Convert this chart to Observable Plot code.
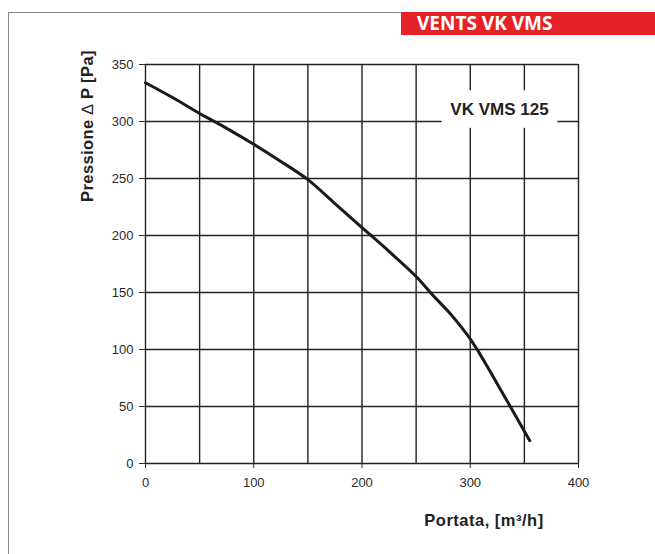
<!DOCTYPE html>
<html><head><meta charset="utf-8">
<script src="https://cdn.jsdelivr.net/npm/d3@7"></script>
<script src="https://cdn.jsdelivr.net/npm/@observablehq/plot@0.6"></script>
<style>
body{margin:0;background:#fff;}
#wrap{position:relative;width:655px;height:554px;overflow:hidden;font-family:"Liberation Sans",Arial,sans-serif;}
#frameL{position:absolute;left:8px;top:12px;width:0;height:560px;border-left:1px solid #8a8a8a;}
#frameT{position:absolute;left:8px;top:12px;width:393px;height:0;border-top:1px solid #8a8a8a;}
#header{position:absolute;left:401px;top:12px;width:254px;height:23px;background:#e52228;color:#fff;font-weight:bold;font-family:"Open Sans",sans-serif;font-size:19px;line-height:23px;padding-left:16px;box-sizing:border-box;white-space:nowrap;}
#chart{position:absolute;left:0;top:0;}
</style></head>
<body>
<div id="wrap">
  <div id="frameL"></div>
  <div id="frameT"></div>
  <div id="header">VENTS VK VMS</div>
  <div id="chart"></div>
</div>
<script>
// Curve data: flow [m3/h] vs pressure [Pa]
const flow     = [0, 25, 50, 75, 100, 125, 150, 175, 200, 225, 250, 265, 282, 298, 307, 320, 340, 355];
const pressure = [334, 321, 307, 294, 280, 265, 249, 228, 207, 186, 164, 148, 131, 112, 99, 78, 45, 20];

const xTicks = [0, 100, 200, 300, 400];
const xGrid  = [0, 50, 100, 150, 200, 250, 300, 350, 400];
const yTicks = [0, 50, 100, 150, 200, 250, 300, 350];

const modelLabel = ["VK VMS 125"];
const modelLabelX = [327];
const modelLabelY = [310.5];
const modelBoxX = [274, 381];
const modelBoxY = [294, 327];

const xTitle = "Portata, [m³/h]";
const yTitleParts = ["Pressione ", "∆", " P [Pa]"];

const data = flow.map((f, i) => ({flow: f, pressure: pressure[i]}));
const lineColor = "#222";

const chart = Plot.plot({
  width: 655,
  height: 554,
  marginLeft: 145,
  marginRight: 77,
  marginTop: 64,
  marginBottom: 91,
  style: {fontFamily: "'Liberation Sans', Arial, sans-serif", fontSize: "13px", color: "#2a2a2a", background: "transparent"},
  x: {domain: [0, 400]},
  y: {domain: [0, 350]},
  marks: [
    Plot.gridX(xGrid, {stroke: lineColor, strokeOpacity: 1, strokeWidth: 1.4}),
    Plot.gridY(yTicks, {stroke: lineColor, strokeOpacity: 1, strokeWidth: 1.4}),
    Plot.axisX(xTicks, {tickSize: 5, tickPadding: 9, label: null, fontSize: 13}),
    Plot.axisY(yTicks, {tickSize: 6, tickPadding: 6, label: null, fontSize: 13}),
    Plot.rect([0], {x1: () => modelBoxX[0], x2: () => modelBoxX[1], y1: () => modelBoxY[0], y2: () => modelBoxY[1], fill: "white"}),
    Plot.text(modelLabel, {x: (d, i) => modelLabelX[i], y: (d, i) => modelLabelY[i], text: d => d, fontWeight: "bold", fontSize: 17, fill: "#222"}),
    Plot.line(data, {x: "flow", y: "pressure", curve: "catmull-rom", stroke: "#1a1a1a", strokeWidth: 3, strokeLinecap: "round"})
  ]
});

const svg = d3.select(chart);
svg.append("text")
  .attr("x", 484).attr("y", 526)
  .attr("text-anchor", "middle")
  .attr("font-weight", "bold")
  .attr("font-size", 16.5)
  .attr("letter-spacing", "0.5px")
  .attr("fill", "#222")
  .text(xTitle);

const yt = svg.append("text")
  .attr("transform", "translate(93,126) rotate(-90)")
  .attr("text-anchor", "middle")
  .attr("font-weight", "bold")
  .attr("font-size", 16.5)
  .attr("letter-spacing", "0.4px")
  .attr("fill", "#222");
yt.append("tspan").text(yTitleParts[0]);
yt.append("tspan").attr("font-weight", "normal").text(yTitleParts[1]);
yt.append("tspan").text(yTitleParts[2]);

document.getElementById("chart").appendChild(chart);
</script>
</body></html>
